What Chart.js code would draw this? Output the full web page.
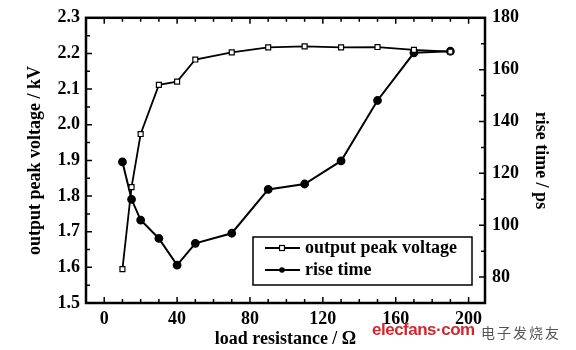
<!DOCTYPE html>
<html>
<head>
<meta charset="utf-8">
<script src="https://cdn.jsdelivr.net/npm/chart.js@4.4.1/dist/chart.umd.min.js"></script>
<style>
  body { margin: 0; background: #fff; }
  #wrap { position: relative; width: 576px; height: 350px; }
  .wm1 { position: absolute; left: 372px; top: 320px; font: bold 17px "Liberation Sans", sans-serif; color: #d3262e; letter-spacing: -0.5px; }
  .wm2 { position: absolute; left: 481px; top: 322px; font: 14px "Noto Sans CJK SC", sans-serif; color: #555; letter-spacing: 2px; }
</style>
</head>
<body>
<div id="wrap">
  <canvas id="chart"></canvas>
  <span class="wm1">elecfans·com</span>
  <span class="wm2">电子发烧友</span>
</div>
<script>
// load resistance (ohm) vs peak voltage and rise time
const resistance = [10, 15, 20, 30, 40, 50, 70, 90, 110, 130, 150, 170, 190];
const peakVoltage = [1.595, 1.825, 1.974, 2.112, 2.121, 2.183, 2.203, 2.217, 2.22, 2.217, 2.218, 2.21, 2.205];
const riseTime = [124.4, 110, 102, 94.9, 84.6, 93, 96.9, 113.8, 115.9, 124.8, 148.1, 166.5, 167.1];

const xTicks = [0, 40, 80, 120, 160, 200];
const voltTicks = [1.5, 1.6, 1.7, 1.8, 1.9, 2.0, 2.1, 2.2, 2.3];
const riseTicks = [80, 100, 120, 140, 160, 180];

const FONT = { family: '"Liberation Serif", serif', size: 18, weight: 'bold' };

function pts(ys) {
  return resistance.map((x, i) => ({ x: x, y: ys[i] }));
}

// frame + inward ticks on all four sides
const frameTicks = {
  id: 'frameTicks',
  afterDatasetsDraw(chart) {
    const { ctx, chartArea: a, scales } = chart;
    ctx.save();
    ctx.strokeStyle = '#000';
    ctx.lineWidth = 1.5;
    ctx.beginPath();
    for (let v = 0; v <= 200; v += 10) {
      const px = scales.x.getPixelForValue(v);
      const len = v % 40 === 0 ? 6 : 4;
      ctx.moveTo(px, a.bottom); ctx.lineTo(px, a.bottom - len);
      ctx.moveTo(px, a.top); ctx.lineTo(px, a.top + len);
    }
    for (let i = 0; i <= 16; i++) {
      const v = 1.5 + i * 0.05;
      const py = scales.y.getPixelForValue(v);
      const len = i % 2 === 0 ? 6 : 4;
      ctx.moveTo(a.left, py); ctx.lineTo(a.left + len, py);
    }
    for (let v = 70; v <= 180; v += 10) {
      const py = scales.y1.getPixelForValue(v);
      const len = v % 20 === 0 ? 6 : 4;
      ctx.moveTo(a.right, py); ctx.lineTo(a.right - len, py);
    }
    ctx.stroke();
    ctx.lineWidth = 2.5;
    ctx.strokeRect(a.left, a.top, a.right - a.left, a.bottom - a.top);
    ctx.restore();
  }
};

// boxed legend in the lower right of the plot
const boxLegend = {
  id: 'boxLegend',
  afterDraw(chart) {
    const { ctx, chartArea: a } = chart;
    const bx = a.right - 232, by = a.bottom - 66, bw = 219, bh = 48;
    ctx.save();
    ctx.strokeStyle = '#000';
    ctx.fillStyle = '#fff';
    ctx.lineWidth = 1.5;
    ctx.fillRect(bx, by, bw, bh);
    ctx.strokeRect(bx, by, bw, bh);
    const rows = [
      { text: 'output peak voltage', y: by + 11, square: true },
      { text: 'rise time', y: by + 33, square: false }
    ];
    rows.forEach(r => {
      ctx.lineWidth = 2;
      ctx.beginPath();
      ctx.moveTo(bx + 12, r.y); ctx.lineTo(bx + 47, r.y);
      ctx.stroke();
      const cx = bx + 29;
      if (r.square) {
        ctx.fillStyle = '#fff';
        ctx.lineWidth = 1.2;
        ctx.fillRect(cx - 2.5, r.y - 2.5, 5, 5);
        ctx.strokeRect(cx - 2.5, r.y - 2.5, 5, 5);
      } else {
        ctx.fillStyle = '#000';
        ctx.beginPath();
        ctx.arc(cx, r.y, 2.8, 0, Math.PI * 2);
        ctx.fill();
      }
      ctx.fillStyle = '#000';
      ctx.font = 'bold 18px "Liberation Serif", serif';
      ctx.textBaseline = 'middle';
      ctx.fillText(r.text, bx + 52, r.y);
    });
    ctx.restore();
  }
};

new Chart(document.getElementById('chart'), {
  type: 'line',
  data: {
    datasets: [
      {
        label: 'output peak voltage',
        data: pts(peakVoltage),
        yAxisID: 'y',
        borderColor: '#000',
        borderWidth: 1.8,
        pointStyle: 'rect',
        pointRadius: 3.5,
        pointBackgroundColor: '#fff',
        pointBorderColor: '#000',
        pointBorderWidth: 1.2,
        tension: 0
      },
      {
        label: 'rise time',
        data: pts(riseTime),
        yAxisID: 'y1',
        borderColor: '#000',
        borderWidth: 2,
        pointStyle: 'circle',
        pointRadius: 3.4,
        pointBackgroundColor: '#000',
        pointBorderColor: '#000',
        tension: 0
      }
    ]
  },
  options: {
    responsive: true,
    maintainAspectRatio: false,
    animation: false,
    layout: { padding: { top: 13, left: 0, right: 0, bottom: 0 } },
    plugins: { legend: { display: false }, tooltip: { enabled: false } },
    scales: {
      x: {
        type: 'linear',
        min: -10,
        max: 209,
        grid: { display: false, drawTicks: false },
        border: { display: false },
        afterBuildTicks: s => { s.ticks = xTicks.map(v => ({ value: v })); },
        afterFit: s => { s.height = 47; },
        ticks: { color: '#000', font: FONT, padding: 6, maxRotation: 0 },
        title: { display: true, text: 'load resistance / Ω', color: '#000', font: FONT, padding: 0 }
      },
      y: {
        position: 'left',
        min: 1.5,
        max: 2.3,
        grid: { display: false, drawTicks: false },
        border: { display: false },
        afterBuildTicks: s => { s.ticks = voltTicks.map(v => ({ value: v })); },
        afterFit: s => { s.width = 86; },
        ticks: { color: '#000', font: FONT, padding: 6, callback: v => v.toFixed(1) },
        title: { display: true, text: 'output peak voltage / kV', color: '#000', font: FONT, padding: { top: 25, bottom: 0 } }
      },
      y1: {
        position: 'right',
        min: 70,
        max: 180,
        grid: { display: false, drawTicks: false },
        border: { display: false },
        afterBuildTicks: s => { s.ticks = riseTicks.map(v => ({ value: v })); },
        afterFit: s => { s.width = 91; },
        ticks: { color: '#000', font: FONT, padding: 7 },
        title: { display: true, text: 'rise time / ps', color: '#000', font: FONT, padding: { top: 25, bottom: 0 } }
      }
    }
  },
  plugins: [frameTicks, boxLegend]
});
</script>
</body>
</html>
